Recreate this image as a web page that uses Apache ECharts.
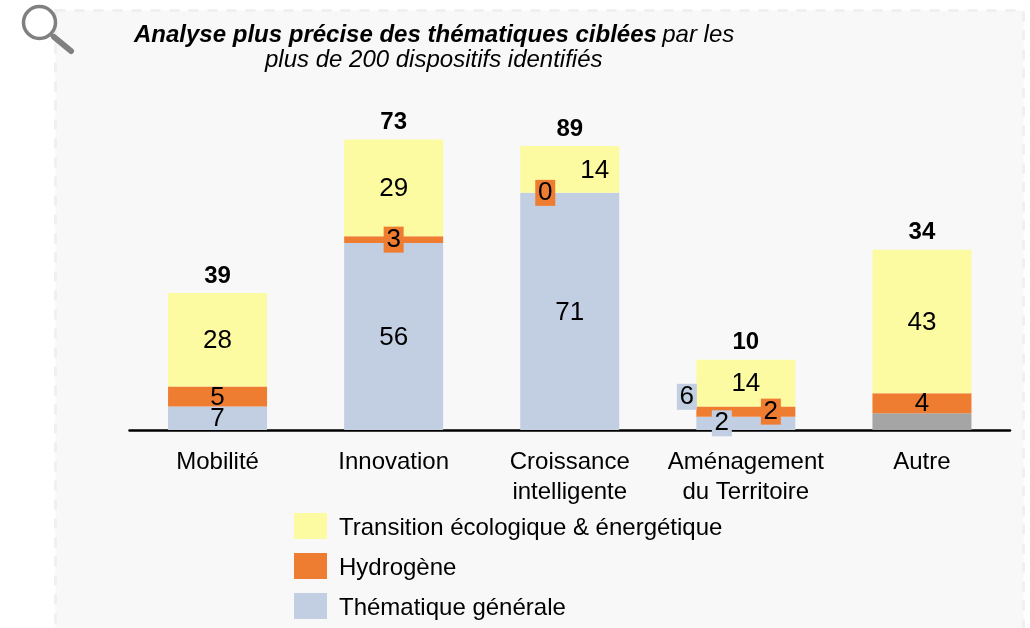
<!DOCTYPE html>
<html>
<head>
<meta charset="utf-8">
<style>
html,body{margin:0;padding:0;background:#fff;}
#chart{width:1030px;height:628px;}
</style>
<script src="https://cdn.jsdelivr.net/npm/echarts@6/dist/echarts.min.js"></script>
</head>
<body>
<div id="chart"></div>
<script>
const categories = ['Mobilité','Innovation','Croissance\nintelligente','Aménagement\ndu Territoire','Autre']
// bar heights as measured on the picture (they differ a bit from the printed labels)
const generale = [7,56,71,4,5]
const hydrogene = [6,2,0,3,6]
const transition = [28,29,14,14,43]
// printed labels
const generaleLabels = ['7','56','71','6','']
const generaleLabels2 = ['','','','2','']
const hydrogeneLabels = ['5','3','0','2','4']
const transitionLabels = ['28','29','14','14','43']
const totals = [39,73,89,10,34]

const FONT = '"Liberation Sans",Arial,sans-serif'
const YELLOW = '#FDFBA2', ORANGE = '#EE7D31', BLUE = '#C2CEE1', GREY = '#A5A5A5'

const chart = echarts.init(document.getElementById('chart'))

function boxLabel(color,offset){
  return {show:true,position:'inside',offset,backgroundColor:color,width:20,height:26,lineHeight:26,align:'center',verticalAlign:'middle'}
}
const valueLabel = {show:true,position:'inside',color:'#000',fontFamily:FONT,fontSize:26,offset:[0,1]}

chart.setOption({
  animation:false,
  backgroundColor:'#fff',
  textStyle:{fontFamily:FONT},
  graphic:[
    {type:'rect',z:-1,shape:{x:55.5,y:10.5,width:968,height:640},
      style:{fill:'#F8F8F8',stroke:'#F0F0F0',lineWidth:3,lineDash:[10,9]}},
    {type:'circle',z:5,shape:{cx:39.5,cy:22.5,r:16},style:{fill:'rgba(255,255,255,0.4)',stroke:'#808080',lineWidth:3.5}},
    {type:'line',z:5,shape:{x1:50,y1:34,x2:54,y2:38},style:{stroke:'#808080',lineWidth:3}},
    {type:'line',z:5,shape:{x1:54,y1:37,x2:71,y2:51},style:{stroke:'#808080',lineWidth:6,lineCap:'round'}},
    {type:'text',z:5,left:134,top:23,style:{
      rich:{b:{font:'italic bold 24px '+FONT,fill:'#000'},n:{font:'italic 24px '+FONT,fill:'#000',padding:[0,0,0,2]}},
      text:'{b|Analyse plus précise des thématiques ciblées} {n|par les}'}},
    {type:'text',z:5,left:265,top:48,style:{text:'plus de 200 dispositifs identifiés',font:'italic 24px '+FONT,fill:'#000'}}
  ],
  legend:{
    orient:'vertical',left:289,top:508,itemWidth:33,itemHeight:26,itemGap:12.5,
    icon:'rect',
    data:['Transition écologique & énergétique','Hydrogène','Thématique générale'],
    selectedMode:false,
    formatter:'{t|{name}}',
    textStyle:{color:'#000',fontFamily:FONT,fontSize:24,padding:[0,0,0,7],
      rich:{t:{color:'#000',fontFamily:FONT,fontSize:24,padding:[5,0,0,0]}}}
  },
  grid:{left:129.5,right:20,top:96,bottom:198},
  xAxis:{
    type:'category',data:categories,
    axisTick:{show:false},
    axisLine:{lineStyle:{color:'#000',width:2.5}},
    axisLabel:{color:'#000',fontFamily:FONT,fontSize:24,lineHeight:30,margin:17.5,interval:0}
  },
  yAxis:{type:'value',min:0,max:100,show:false,splitLine:{show:false}},
  series:[
    {name:'Thématique générale',type:'bar',stack:'a',barWidth:99,itemStyle:{color:BLUE},
      data:generale.map((v,i)=>{
        let item = {value:v,label:{...valueLabel,formatter:generaleLabels[i]}}
        if(i===3) Object.assign(item.label,boxLabel(BLUE,[-59,-26.5]))
        if(i===4) item.itemStyle = {color:GREY}
        return item
      })},
    {name:'Hydrogène',type:'bar',stack:'a',itemStyle:{color:ORANGE},
      data:hydrogene.map((v,i)=>{
        let label = {...valueLabel,formatter:hydrogeneLabels[i]}
        if(i===1) Object.assign(label,boxLabel(ORANGE,[0,0]))
        if(i===2) Object.assign(label,boxLabel(ORANGE,[-24.5,0]))
        if(i===3) Object.assign(label,boxLabel(ORANGE,[25,0]))
        return {value:v,label}
      })},
    {name:'Transition écologique & énergétique',type:'bar',stack:'a',itemStyle:{color:YELLOW},
      data:transition.map((v,i)=>{
        let label = {...valueLabel,formatter:transitionLabels[i]}
        if(i===2) label.offset = [25,1]
        return {value:v,label}
      })},
    {name:'total',type:'bar',stack:'a',itemStyle:{color:'transparent'},
      data:totals.map(t=>({value:0,label:{show:true,position:'top',distance:5,color:'#000',fontFamily:FONT,fontSize:24,fontWeight:'bold',formatter:String(t)}}))},
    // second small box on Aménagement, it sits over the blue bar
    {name:'boxes',type:'bar',barGap:'-100%',barWidth:99,itemStyle:{color:'transparent'},z:5,
      data:generale.map((v,i)=>generaleLabels2[i] ? {value:v,label:{...valueLabel,...boxLabel(BLUE,[-24,0]),formatter:generaleLabels2[i]}} : null)}
  ]
})
</script>
</body>
</html>
